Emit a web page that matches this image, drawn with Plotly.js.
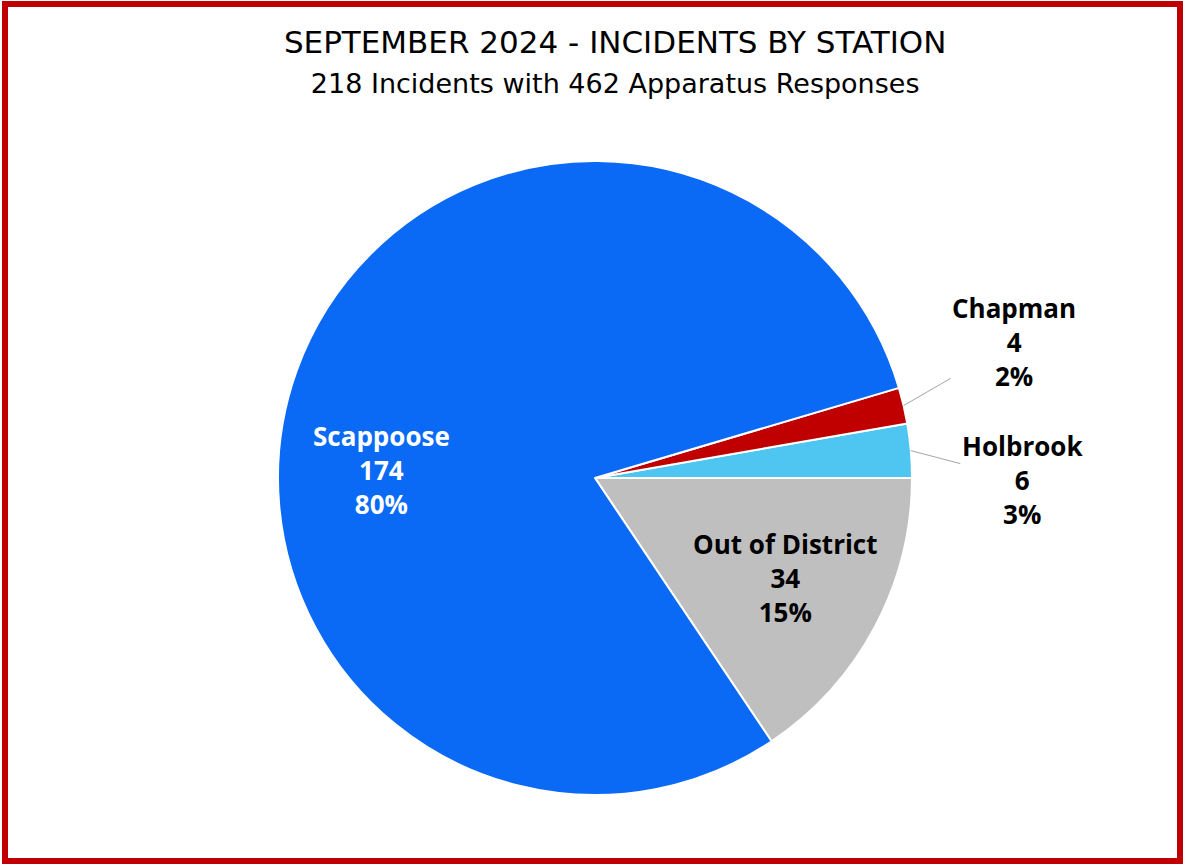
<!DOCTYPE html>
<html>
<head>
<meta charset="utf-8">
<script src="https://cdn.plot.ly/plotly-3.0.1.min.js"></script>
<style>
  html, body { margin: 0; padding: 0; background: #ffffff; }
  #frame { position: absolute; left: 2px; top: 1px; width: 1169px; height: 851px; border: 6px solid #C00000; background: #fff; }
  #chart { position: absolute; left: 0; top: 0; width: 1183px; height: 866px; }
</style>
</head>
<body>
<div id="frame"></div>
<div id="chart"></div>
<script>
// Data (slice order counterclockwise; Out of District ends at 3 o'clock)
const stations = ["Out of District", "Holbrook", "Chapman", "Scappoose"];
const incidents = [34, 6, 4, 174];
const pctLabels = ["15%", "3%", "2%", "80%"];
const sliceColors = ["#BFBFBF", "#4FC6F2", "#C00000", "#0A69F5"];
const labelColors = ["#000000", "#000000", "#000000", "#ffffff"];
// label centres in plot-area fractions (text placement only)
const labelX = [0.801, 1.174, 1.161, 0.164];
const labelY = [0.342, 0.497, 0.715, 0.513];
const hasLeader = [false, true, true, false];

const W = 1183, H = 866;
const M = { l: 278, r: 271, t: 161, b: 71 };
const plotW = W - M.l - M.r, plotH = H - M.t - M.b;

const trace = {
  type: "pie",
  labels: stations,
  values: incidents,
  textinfo: "none",
  sort: false,
  direction: "counterclockwise",
  rotation: 90,
  marker: { colors: sliceColors, line: { color: "#ffffff", width: 2 } },
  hoverinfo: "label+value+percent",
  showlegend: false
};

// Slice geometry from the data, for leader-line anchors
const total = incidents.reduce((a, b) => a + b, 0);
let startFrac = -incidents[0] / total; // first slice ends at 3 o'clock
const annotations = stations.map((s, i) => {
  const mid = (startFrac + incidents[i] / (2 * total)) * 2 * Math.PI;
  startFrac += incidents[i] / total;
  const txt = s + "<br>" + incidents[i] + "<br>" + pctLabels[i];
  const font = { family: "Open Sans, sans-serif", size: 26, color: labelColors[i], weight: "bold" };
  if (hasLeader[i]) {
    const tipX = 0.5 + 0.5 * Math.cos(mid);
    const tipY = 0.5 + 0.5 * Math.sin(mid);
    return {
      xref: "paper", yref: "paper", x: tipX, y: tipY,
      ax: (labelX[i] - tipX) * plotW, ay: -(labelY[i] - tipY) * plotH,
      showarrow: true, arrowhead: 0, arrowwidth: 1, arrowcolor: "#A6A6A6",
      standoff: 0, startstandoff: 0,
      text: txt, font: font, align: "center"
    };
  }
  return {
    xref: "paper", yref: "paper", x: labelX[i], y: labelY[i],
    xanchor: "center", yanchor: "middle", showarrow: false,
    text: txt, font: font, align: "center"
  };
});

const layout = {
  width: W,
  height: H,
  margin: M,
  paper_bgcolor: "rgba(0,0,0,0)",
  plot_bgcolor: "rgba(0,0,0,0)",
  title: {
    text: "SEPTEMBER 2024 - INCIDENTS BY STATION<br><span style=\"font-size:27px\">218 Incidents with 462 Apparatus Responses</span>",
    font: { family: "DejaVu Sans, sans-serif", size: 31, color: "#000000" },
    x: 0.52,
    xanchor: "center",
    y: 0.939,
    yref: "container",
    yanchor: "top"
  },
  annotations: annotations,
  showlegend: false
};

Plotly.newPlot("chart", [trace], layout, { displayModeBar: false, staticPlot: true });
</script>
</body>
</html>
